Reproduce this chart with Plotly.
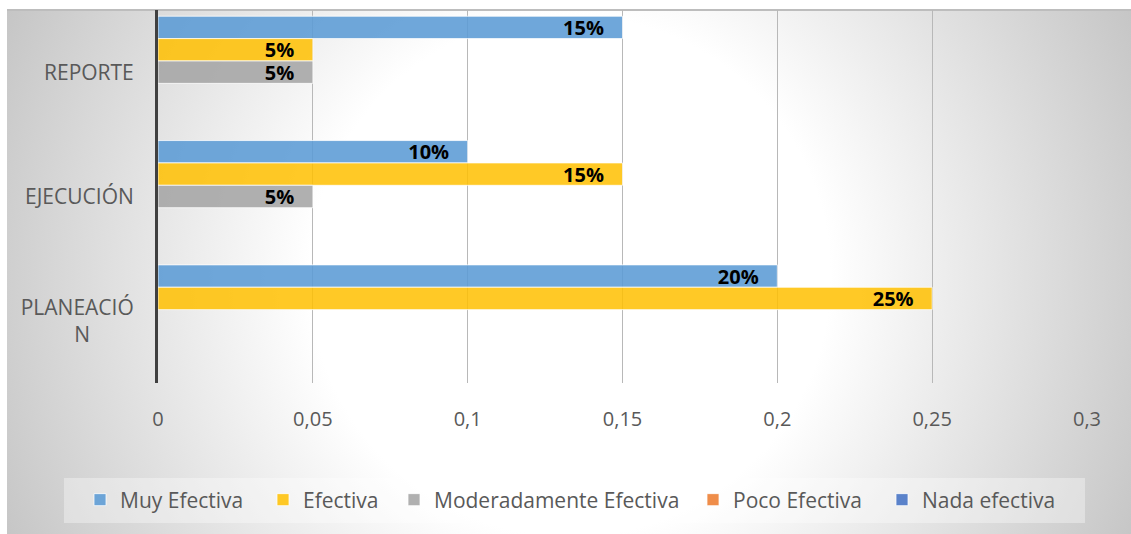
import base64
import plotly.graph_objects as go

categories = ["REPORTE", "EJECUCIÓN", "PLANEACIÓN"]
tick_labels = ["REPORTE", "EJECUCIÓN", "PLANEACIÓ<br>N" + "\u00a0" * 8]
series_names = ["Muy Efectiva", "Efectiva", "Moderadamente Efectiva", "Poco Efectiva", "Nada efectiva"]
muy_efectiva = [0.15, 0.10, 0.20]
efectiva = [0.05, 0.15, 0.25]
moderadamente = [0.05, 0.05, None]
poco = [None, None, None]
nada = [None, None, None]
x_ticks = [0, 0.05, 0.1, 0.15, 0.2, 0.25, 0.3]

series_values = [muy_efectiva, efectiva, moderadamente, poco, nada]
colors = ["rgba(91,155,213,0.88)", "rgba(255,192,0,0.85)", "rgba(165,165,165,0.88)",
          "rgba(237,125,49,0.88)", "rgba(68,114,196,0.88)"]
legend_text_x = [120, 303, 434, 733, 922]  # pixel x where each legend label starts

W, H = 1131, 534
L, R, T, B = 158, 44, 10, 151
pw, ph = W - L - R, H - T - B


def px_x(p):
    return (p - L) / pw


def px_y(p):
    return (H - B - p) / ph


fig = go.Figure()
legend_ids = ["legend", "legend2", "legend3", "legend4", "legend5"]
for name, vals, col, lid in zip(series_names, series_values, colors, legend_ids):
    fig.add_trace(go.Bar(
        y=categories, x=vals, name=name, orientation="h", legend=lid,
        marker=dict(color=col, line=dict(color="rgba(255,255,255,0.75)", width=1)),
        texttemplate="%{x:.0%}\u00a0\u00a0\u00a0",
        textposition="inside", insidetextanchor="end",
        textfont=dict(family="Open Sans", size=20, color="black", weight="bold"),
        constraintext="none", cliponaxis=False,
    ))

# radial gradient background (chart area)
bw, bh = 1124, 525
svg = f'''<svg xmlns="http://www.w3.org/2000/svg" width="{bw}" height="{bh}" viewBox="0 0 {bw} {bh}" preserveAspectRatio="none">
<defs><radialGradient id="g" gradientUnits="userSpaceOnUse" cx="563" cy="267" r="620">
<stop offset="0" stop-color="#ffffff"/><stop offset="0.42" stop-color="#ffffff"/>
<stop offset="1" stop-color="#c6c6c6"/></radialGradient></defs>
<rect x="0" y="0" width="{bw}" height="{bh}" fill="url(#g)"/>
<rect x="0" y="0" width="{bw}" height="2" fill="#bdbdbd"/>
</svg>'''
src = "data:image/svg+xml;base64," + base64.b64encode(svg.encode()).decode()

fig.add_layout_image(dict(
    source=src, xref="paper", yref="paper",
    x=px_x(7), y=px_y(9), sizex=bw / pw, sizey=bh / ph,
    xanchor="left", yanchor="top", sizing="stretch", layer="below",
))

fig.add_shape(type="rect", xref="paper", yref="paper",
              x0=px_x(64), x1=px_x(1085), y0=px_y(523), y1=px_y(478),
              fillcolor="rgba(255,255,255,0.35)", line=dict(width=0), layer="below")

legend_layouts = {}
for lid, tx in zip(legend_ids, legend_text_x):
    legend_layouts[lid] = dict(
        orientation="h", xanchor="left", yanchor="middle",
        x=px_x(tx - 40), y=px_y(500), bgcolor="rgba(0,0,0,0)",
        font=dict(family="Open Sans", size=21, color="#595959"),
    )

fig.update_layout(
    width=W, height=H,
    margin=dict(l=L, r=R, t=T, b=B, pad=0, autoexpand=False),
    paper_bgcolor="white", plot_bgcolor="rgba(0,0,0,0)",
    barmode="group", bargap=0.1, bargroupgap=0,
    separators=",.",
    font=dict(family="Open Sans", size=20, color="#595959"),
    showlegend=True,
    xaxis=dict(range=[0, 0.3], tickvals=x_ticks, showgrid=True,
               gridcolor="#b8b8b8", gridwidth=1, zeroline=False, showline=False,
               ticks="", ticklabelstandoff=22,
               tickfont=dict(family="Open Sans", size=20, color="#595959")),
    yaxis=dict(categoryorder="array", categoryarray=categories,
               tickvals=categories, ticktext=tick_labels,
               autorange="reversed", showgrid=False, zeroline=False,
               showline=True, linecolor="#404040", linewidth=3,
               ticks="", ticklabelstandoff=17,
               tickfont=dict(family="Open Sans", size=21, color="#595959")),
    **legend_layouts,
)

fig.write_html("out.html")
